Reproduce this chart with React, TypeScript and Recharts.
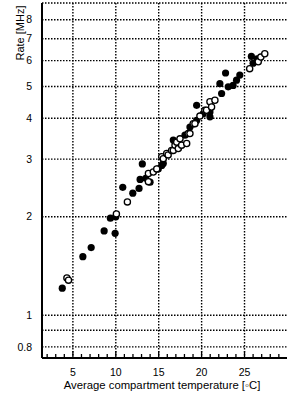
import React from "react"
import {
  CartesianGrid,
  Label,
  Scatter,
  ScatterChart,
  XAxis,
  YAxis,
} from "recharts"

// Rate vs. average compartment temperature, log y axis.
// filled = one run set, open = the other.
const filledTemp = [
  3.76, 6.16, 7.13, 8.64, 9.92, 9.37, 10.0, 10.81, 11.98, 12.71, 12.83, 13.09,
  13.49, 13.99, 14.95, 15.35, 15.53, 16.7, 17.3, 18.06, 18.64, 19.42, 19.42,
  20.19, 20.97, 20.97, 22.13, 22.33, 22.79, 23.1, 23.67, 24.07, 24.45, 25.8,
  26.0, 26.47,
]
const filledRate = [
  1.21, 1.51, 1.61, 1.81, 1.78, 1.98, 2.0, 2.46, 2.36, 2.44, 2.6, 2.9, 2.62,
  2.55, 2.8, 2.87, 2.91, 3.43, 3.25, 3.55, 3.76, 3.94, 4.38, 4.13, 4.04, 4.18,
  5.1, 4.76, 5.5, 4.99, 5.04, 5.23, 5.42, 6.18, 5.89, 6.08,
]
const openTemp = [
  4.3, 4.49, 10.07, 11.35, 13.8, 13.8, 14.37, 14.77, 15.35, 15.53, 15.93, 16.1,
  16.5, 16.7, 16.9, 17.1, 17.28, 17.48, 17.67, 18.26, 18.44, 18.64, 19.02,
  19.22, 19.8, 20.38, 20.57, 20.97, 21.16, 21.55, 25.6, 26.6, 26.9, 27.36,
]
const openRate = [
  1.3, 1.28, 2.04, 2.22, 2.71, 2.56, 2.74, 2.8, 3.05, 3.01, 3.12, 3.09, 3.19,
  3.19, 3.31, 3.38, 3.23, 3.46, 3.31, 3.35, 3.59, 3.59, 3.85, 3.85, 4.06, 4.23,
  4.23, 4.49, 4.33, 4.54, 5.67, 5.95, 6.15, 6.3,
]

const xTicks = Array.from({ length: 28 }, (_, i) => i + 2)
const xGrid = [5, 10, 15, 20, 25]
const yTicks = [0.8, 0.9, 1, 2, 3, 4, 5, 6, 7, 8]

const filled = filledTemp.map((t, i) => ({ t, r: filledRate[i] }))
const open = openTemp.map((t, i) => ({ t, r: openRate[i] }))

const FONT = "'Liberation Sans', Arial, sans-serif"

function XTick({ x, y, payload }: any) {
  const v = payload.value
  const major = v % 5 === 0
  return (
    <g>
      <line x1={x} x2={x} y1={y} y2={y - (major ? 7 : 4)} stroke="#000" strokeWidth={1.3} />
      {major && (
        <text x={x} y={y + 18} textAnchor="middle" fontSize={10.5} fontFamily={FONT} fill="#000">
          {v}
        </text>
      )}
    </g>
  )
}

const dotFilled = (p: any) => <circle cx={p.cx} cy={p.cy} r={3.6} fill="#000" />
const dotOpen = (p: any) => (
  <circle cx={p.cx} cy={p.cy} r={3.1} fill="#fff" stroke="#000" strokeWidth={1.3} />
)

export default function App() {
  return (
    <div style={{ position: "absolute", left: 0, top: 0, width: 287, height: 394, overflow: "hidden", background: "#fff" }}>
      <ScatterChart width={300} height={394} margin={{ top: 3, right: 10, bottom: 0, left: 0 }}>
        <CartesianGrid
          stroke="#000"
          strokeWidth={1.4}
          strokeDasharray="1.5 1.5"
          verticalValues={xGrid}
        />
        <XAxis
          xAxisId="top"
          orientation="top"
          type="number"
          dataKey="t"
          domain={[1.4, 30.3]}
          allowDataOverflow
          height={0}
          tick={false}
          tickLine={false}
          axisLine={{ stroke: "#000", strokeWidth: 2 }}
        />
        <XAxis
          type="number"
          dataKey="t"
          domain={[1.4, 30.3]}
          allowDataOverflow
          ticks={xTicks}
          interval={0}
          height={36}
          tickSize={0}
          tickMargin={0}
          tickLine={false}
          tick={<XTick />}
          axisLine={{ stroke: "#000", strokeWidth: 2 }}
        >
          <Label
            content={() => (
              <text x={162} y={389} textAnchor="middle" fontSize={11.3} fontFamily={FONT} fill="#000">
                Average compartment temperature [◦C]
              </text>
            )}
          />
        </XAxis>
        <YAxis
          type="number"
          dataKey="r"
          scale="log"
          domain={[0.74, 9]}
          allowDataOverflow
          ticks={yTicks}
          interval={0}
          width={42}
          tickLine={false}
          tickMargin={4}
          tickFormatter={(v: number) => (v === 0.9 ? "" : String(v))}
          tick={{ fontSize: 10.5, fontFamily: FONT, fill: "#000" }}
          axisLine={{ stroke: "#000", strokeWidth: 2 }}
        >
          <Label
            content={() => (
              <text
                x={24}
                y={33}
                transform="rotate(-90 24 33)"
                textAnchor="middle"
                fontSize={11}
                fontFamily={FONT}
                fill="#000"
              >
                Rate [MHz]
              </text>
            )}
          />
        </YAxis>
        <Scatter data={filled} shape={dotFilled} isAnimationActive={false} />
        <Scatter data={open} shape={dotOpen} isAnimationActive={false} />
      </ScatterChart>
    </div>
  )
}
